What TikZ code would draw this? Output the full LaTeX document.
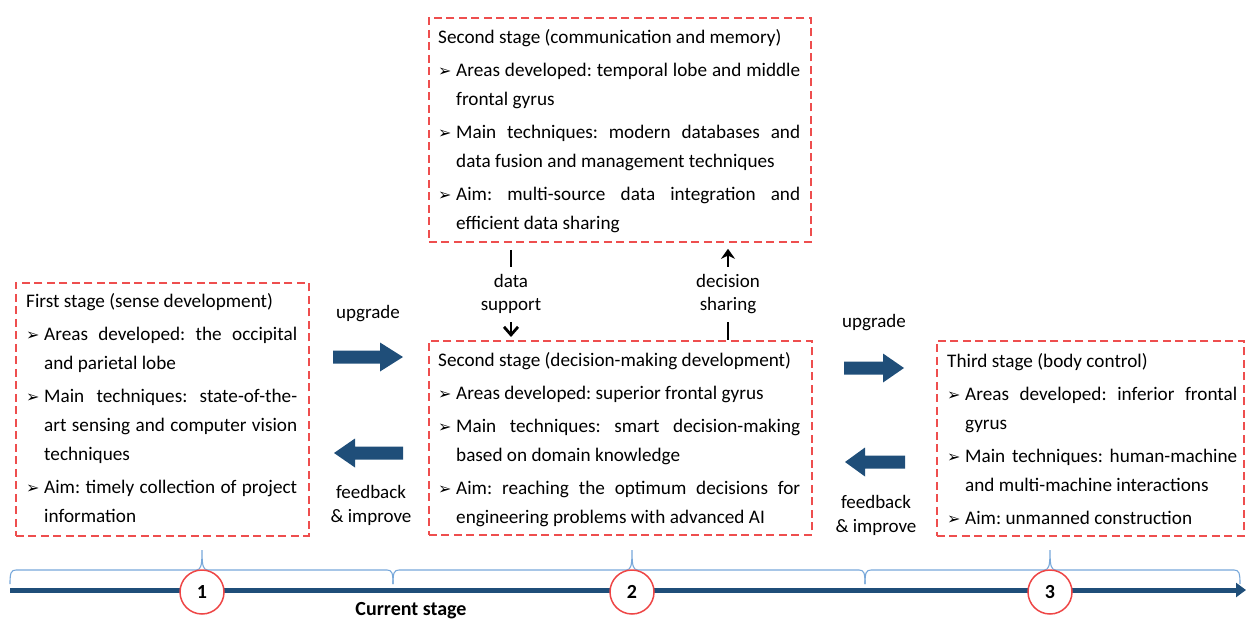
\documentclass[tikz,border=0pt]{standalone}
\usepackage{fontspec}
\setmainfont{Carlito}
\newfontfamily\dejavu{DejaVu Sans}
\usetikzlibrary{arrows.meta,calc}

\definecolor{boxred}{RGB}{238,78,78}
\definecolor{ringred}{RGB}{238,70,70}
\definecolor{navy}{RGB}{31,78,121}
\definecolor{braceblue}{RGB}{120,168,218}

% body text of the stage boxes
\newcommand{\stagefont}{\fontsize{19.2}{29}\selectfont\frenchspacing\hyphenpenalty=10000\exhyphenpenalty=10000\parskip=4pt\relax}
\newcommand{\arrowbullet}{{\dejavu\fontsize{16}{16}\selectfont ➢}}
\newcommand{\stageitem}{\par\noindent\hangindent=18pt\hangafter=1\makebox[18pt][l]{\arrowbullet}}

% filled block arrow: tail x, head-base x, tip x, centre y
\newcommand{\blockarrow}[4]{%
  \fill[blockarrow] (#1,#4-6.5) -- (#2,#4-6.5) -- (#2,#4-14.5) -- (#3,#4)
    -- (#2,#4+14.5) -- (#2,#4+6.5) -- (#1,#4+6.5) -- cycle;}

% curly brace over the time line: left x, tip x, right x
\newcommand{\stagebrace}[3]{%
  \draw[brace] (#1,584) .. controls (#1,573) and (#1+1,570) .. (#1+6,570)
    -- (#2-6,570) .. controls (#2-1,570) and (#2,566) .. (#2,550)
    .. controls (#2,566) and (#2+1,570) .. (#2+6,570)
    -- (#3-6,570) .. controls (#3-1,570) and (#3,573) .. (#3,584);}

\tikzset{
  stage/.style={draw=boxred, line width=1.8pt, dash pattern=on 8pt off 4.5pt,
    inner sep=0pt, anchor=north west},
  stagetext/.style={anchor=base west, inner sep=0pt, align=justify},
  lbl/.style={font=\fontsize{19}{24}\selectfont, align=center, inner sep=0pt},
  flowlabel/.style={fill=white, font=\fontsize{19}{23}\selectfont, align=center,
    inner xsep=2pt, inner ysep=8pt, yshift=-3pt},
  flow/.style={line width=2.8pt, black},
  blockarrow/.style={fill=navy},
  brace/.style={draw=braceblue, line width=1.1pt},
  timeline/.style={draw=navy, line width=5pt, -{Triangle[length=10pt,width=14pt]}},
  stagecircle/.style={circle, draw=ringred, fill=white, line width=1.5pt,
    minimum size=44pt, inner sep=0pt, font=\fontsize{20}{20}\selectfont\bfseries},
}

\begin{document}
\begin{tikzpicture}[x=1pt, y=-1pt]
\useasboundingbox (0,0) rectangle (1246,621);

% ---- stage boxes ----
\node[stage, minimum width=382pt, minimum height=224pt] (comm) at (428,17) {};
\node[stage, minimum width=293pt, minimum height=253pt] (sense) at (15,282) {};
\node[stage, minimum width=383pt, minimum height=194pt] (dec) at (428,340) {};
\node[stage, minimum width=307pt, minimum height=195pt] (body) at (936,340) {};

\node[stagetext, text width=362pt] (commtext) at (438,43) {\stagefont
Second stage (communication and memory)
\stageitem Areas developed: temporal lobe and middle\linebreak frontal gyrus
\stageitem Main techniques: modern databases and\linebreak data fusion and management techniques
\stageitem Aim: multi-source data integration and\linebreak efficient data sharing\par};

\node[stagetext, text width=271pt] (sensetext) at (26,307) {\stagefont
First stage (sense development)
\stageitem Areas developed: the occipital\linebreak and parietal lobe
\stageitem Main techniques: state-of-the-\linebreak art sensing and computer vision\linebreak techniques
\stageitem Aim: timely collection of project\linebreak information\par};

\node[stagetext, text width=362pt] (dectext) at (438,366) {\stagefont
Second stage (decision-making development)
\stageitem Areas developed: superior frontal gyrus
\stageitem Main techniques: smart decision-making\linebreak based on domain knowledge
\stageitem Aim: reaching the optimum decisions for\linebreak engineering problems with advanced AI\par};

\node[stagetext, text width=290pt] (bodytext) at (947,367) {\stagefont
Third stage (body control)
\stageitem Areas developed: inferior frontal\linebreak gyrus
\stageitem Main techniques: human-machine\linebreak and multi-machine interactions
\stageitem Aim: unmanned construction\par};

% ---- links between the two second-stage boxes ----
\draw[flow, -{Straight Barb[length=8pt,width=14pt]}, shorten <=7pt, shorten >=3pt]
  ($(comm.south west)+(83,0)$) -- node[flowlabel] (dslabel) {data\\support}
  ($(dec.north west)+(83,0)$);
\draw[flow, -{Stealth[length=10pt,width=14pt]}, shorten >=6pt]
  ($(dec.north west)+(300,0)$) -- node[flowlabel] (dclabel) {decision\\sharing}
  ($(comm.south west)+(300,0)$);

% ---- upgrade / feedback arrows ----
\blockarrow{333}{380}{403}{357}
\blockarrow{403}{355}{334}{453}
\blockarrow{844}{883}{904}{368}
\blockarrow{905}{865}{845}{462}

\node[lbl] (up1) at (368,314) {upgrade};
\node[lbl] (fb1) at (371,505) {feedback\\\& improve};
\node[lbl] (up2) at (874,323) {upgrade};
\node[lbl] (fb2) at (876,515) {feedback\\\& improve};

% ---- time line ----
\stagebrace{10}{202}{393}
\stagebrace{393}{632}{865}
\stagebrace{865}{1050}{1240}

\coordinate (tstart) at (10,590);
\coordinate (tend) at (1246,590);
\draw[timeline] (tstart) -- (tend);

\node[stagecircle] (s1) at (202,592) {1};
\node[stagecircle] (s2) at (632,592) {2};
\node[stagecircle] (s3) at (1050,592) {3};

\node[font=\fontsize{20}{20}\selectfont\bfseries, inner sep=0pt] (current) at (411,611) {Current stage};
\end{tikzpicture}
\end{document}
